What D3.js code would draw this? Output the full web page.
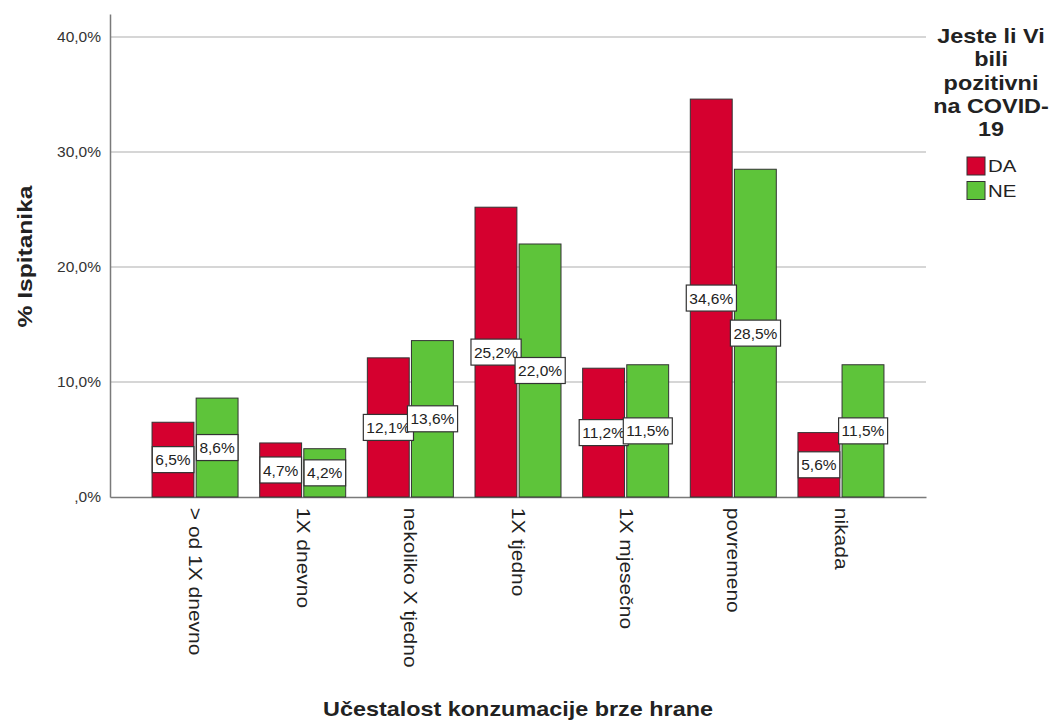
<!DOCTYPE html>
<html>
<head>
<meta charset="utf-8">
<script src="https://cdn.jsdelivr.net/npm/d3@7"></script>
<style>
  body { margin: 0; background: #fff; }
  svg { display: block; font-family: Arial, "Liberation Sans", sans-serif; }
</style>
</head>
<body>
<svg id="chart" width="1053" height="727"></svg>
<script>
// Fast-food consumption frequency by COVID-19 status
const categories = ["> od 1X dnevno", "1X dnevno", "nekoliko X tjedno", "1X tjedno", "1X mjesečno", "povremeno", "nikada"];
const seriesNames = ["DA", "NE"];
const valuesDA = [6.5, 4.7, 12.1, 25.2, 11.2, 34.6, 5.6];
const valuesNE = [8.6, 4.2, 13.6, 22.0, 11.5, 28.5, 11.5];
const yTicks = [0, 10, 20, 30, 40];
const colors = { DA: "#d5002f", NE: "#5ec43a" };

const svg = d3.select("#chart");
const plotLeft = 110, plotRight = 926, plotTop = 14, plotBottom = 497;
const WIDE = 1.2; // horizontal text widening

const x = d3.scaleBand().domain(categories).range([plotLeft, plotRight]).paddingOuter(0.29).paddingInner(0);
const x1 = d3.scaleBand().domain(seriesNames).range([0, 86]).paddingInner(0.05);
const y = d3.scaleLinear().domain([0, 42]).range([plotBottom, plotTop]);

const fmt = v => d3.format(".1f")(v).replace(".", ",") + "%";
const fmtTick = v => (v === 0 ? ",0" : d3.format(".1f")(v).replace(".", ",")) + "%";

// gridlines
svg.append("g").selectAll("line").data(yTicks.filter(d => d > 0)).join("line")
  .attr("x1", plotLeft).attr("x2", plotRight)
  .attr("y1", d => y(d)).attr("y2", d => y(d))
  .attr("stroke", "#c8c8c8").attr("stroke-width", 1.5);

// y axis
const yAxis = d3.axisLeft(y).tickValues(yTicks).tickFormat(fmtTick).tickSize(0).tickPadding(9);
const gy = svg.append("g").attr("transform", `translate(${plotLeft},0)`).call(yAxis);
gy.select(".domain").attr("stroke", "#7a7a7a").attr("stroke-width", 1.5);
gy.selectAll("text").attr("font-size", 15.5).attr("fill", "#333").attr("font-family", "Arial, 'Liberation Sans', sans-serif");

// x axis
const xAxis = d3.axisBottom(x).tickSize(0).tickPadding(0);
const gx = svg.append("g").attr("transform", `translate(0,${plotBottom})`).call(xAxis);
gx.select(".domain").attr("stroke", "#7a7a7a").attr("stroke-width", 1.5);
gx.selectAll("text")
  .attr("font-size", 17.5).attr("fill", "#222").attr("font-family", "Arial, 'Liberation Sans', sans-serif")
  .attr("transform", `rotate(90) scale(${WIDE},1)`)
  .attr("text-anchor", "start").attr("dy", "0.35em").attr("x", 9).attr("y", 0);

// bars
const rows = categories.map((c, i) => ({ cat: c, vals: [{ s: "DA", v: valuesDA[i] }, { s: "NE", v: valuesNE[i] }] }));
const groups = svg.append("g").selectAll("g").data(rows).join("g")
  .attr("transform", d => `translate(${x(d.cat) + x.bandwidth() / 2 - 43},0)`);

groups.selectAll("rect").data(d => d.vals).join("rect")
  .attr("x", d => x1(d.s)).attr("width", x1.bandwidth())
  .attr("y", d => y(d.v)).attr("height", d => y(0) - y(d.v))
  .attr("fill", d => colors[d.s]).attr("stroke", "#333").attr("stroke-width", 1);

// value labels at bar mid-height
const lab = groups.selectAll("g.lab").data(d => d.vals).join("g").attr("class", "lab")
  .attr("transform", d => `translate(${x1(d.s) + x1.bandwidth() / 2},${y(d.v / 2)})`);
lab.append("text").text(d => fmt(d.v))
  .attr("text-anchor", "middle").attr("dy", "0.36em")
  .attr("font-size", 15.5).attr("fill", "#222");
lab.each(function () {
  const g = d3.select(this);
  const bb = g.select("text").node().getBBox();
  g.insert("rect", "text")
    .attr("x", bb.x - 3).attr("y", -13)
    .attr("width", bb.width + 6).attr("height", 26)
    .attr("fill", "#fff").attr("stroke", "#333").attr("stroke-width", 1.2);
});

// axis titles
svg.append("text").text("% Ispitanika")
  .attr("transform", `translate(32,${(plotTop + plotBottom) / 2 + 1}) rotate(-90) scale(${WIDE},1)`)
  .attr("text-anchor", "middle").attr("font-size", 20.5).attr("font-weight", "bold").attr("fill", "#222");
svg.append("text").text("Učestalost konzumacije brze hrane")
  .attr("transform", `translate(518,716) scale(1.17,1)`)
  .attr("text-anchor", "middle").attr("font-size", 20).attr("font-weight", "bold").attr("fill", "#222");

// legend
const legendTitle = ["Jeste li Vi", "bili", "pozitivni", "na COVID-", "19"];
svg.append("g").selectAll("text").data(legendTitle).join("text")
  .text(d => d)
  .attr("transform", (d, i) => `translate(991,${43 + i * 23.25}) scale(${WIDE},1)`)
  .attr("text-anchor", "middle").attr("font-size", 19.5).attr("font-weight", "bold").attr("fill", "#222");
const leg = svg.append("g").selectAll("g").data(seriesNames).join("g")
  .attr("transform", (d, i) => `translate(967,${157 + i * 24.5})`);
leg.append("rect").attr("width", 18).attr("height", 18)
  .attr("fill", d => colors[d]).attr("stroke", "#333").attr("stroke-width", 1);
leg.append("text").text(d => d)
  .attr("transform", `translate(21,9) scale(${WIDE},1)`).attr("dy", "0.36em")
  .attr("font-size", 17).attr("fill", "#222");
</script>
</body>
</html>
